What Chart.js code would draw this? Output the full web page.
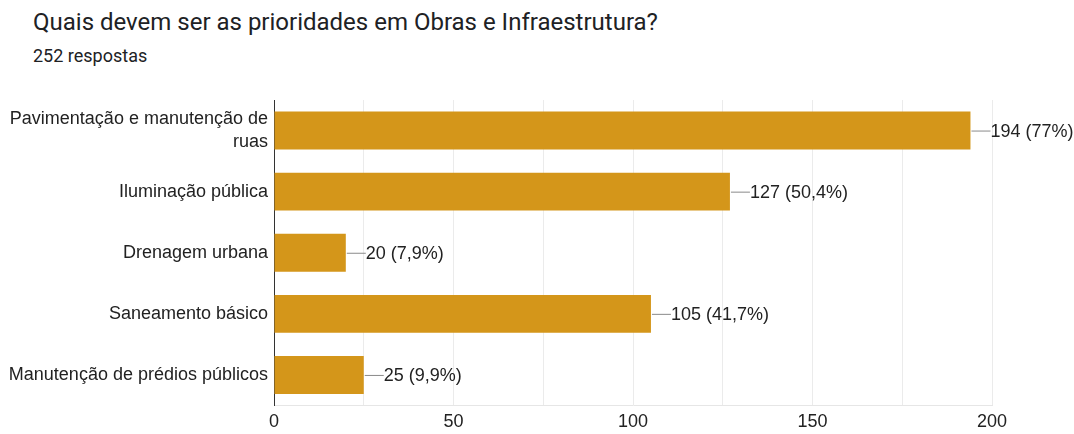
<!DOCTYPE html>
<html>
<head>
<meta charset="utf-8">
<script src="https://cdn.jsdelivr.net/npm/chart.js@4"></script>
<style>
  html, body { margin: 0; padding: 0; background: #fff; }
  #wrap { position: relative; width: 1074px; height: 434px; overflow: hidden; }
  #titre { position: absolute; left: 33px; top: 8px; font-family: Roboto, sans-serif; font-size: 24px; color: #202124; white-space: nowrap; }
  #sous { position: absolute; left: 33px; top: 45px; font-family: Roboto, sans-serif; font-size: 18px; color: #202124; }
  canvas { position: absolute; left: 0; top: 0; }
</style>
</head>
<body>
<div id="wrap">
  <div id="titre">Quais devem ser as prioridades em Obras e Infraestrutura?</div>
  <div id="sous">252 respostas</div>
  <canvas id="myChart" width="1074" height="434"></canvas>
</div>
<script>
// Données
const categories = [
    ["Pavimentação e manutenção de", "ruas"],
    "Iluminação pública",
    "Drenagem urbana",
    "Saneamento básico",
    "Manutenção de prédios públicos"
];
const reponses = [194, 127, 20, 105, 25];
const pourcentages = ["77%", "50,4%", "7,9%", "41,7%", "9,9%"];
const ticksX = [0, 50, 100, 150, 200];

const police = "'Liberation Sans', Arial, sans-serif";

// Étiquettes à droite des barres avec petit trait
const etiquettes = {
    id: "etiquettes",
    afterDatasetsDraw(chart) {
        const ctx = chart.ctx;
        const meta = chart.getDatasetMeta(0);
        ctx.save();
        ctx.font = "18px " + police;
        ctx.textBaseline = "middle";
        meta.data.forEach((bar, i) => {
            const x = bar.x, y = bar.y;
            ctx.strokeStyle = "#8a8a8a";
            ctx.lineWidth = 1;
            ctx.beginPath();
            ctx.moveTo(x + 1, y + 0.5);
            ctx.lineTo(x + 20, y + 0.5);
            ctx.stroke();
            ctx.fillStyle = "#222";
            ctx.fillText(reponses[i] + " (" + pourcentages[i] + ")", x + 20, y + 1);
        });
        ctx.restore();
    }
};

new Chart(document.getElementById("myChart"), {
    type: "bar",
    data: {
        labels: categories,
        datasets: [{
            data: reponses,
            backgroundColor: "#d4961a",
            barPercentage: 0.62,
            categoryPercentage: 1
        }]
    },
    options: {
        indexAxis: "y",
        responsive: false,
        animation: false,
        layout: { padding: { top: 100, right: 82, left: 0, bottom: 0 } },
        plugins: {
            legend: { display: false },
            tooltip: { enabled: false }
        },
        scales: {
            x: {
                min: 0,
                max: 200,
                afterFit(scale) { scale.height = 27; },
                afterBuildTicks(scale) {
                    scale.ticks = [];
                    for (let v = 0; v <= 200; v += 25) scale.ticks.push({ value: v });
                },
                grid: { color: "#ebebeb", drawTicks: false },
                border: { display: true, color: "#e6e6e6" },
                ticks: {
                    padding: 6,
                    color: "#222",
                    font: { size: 18, family: police },
                    callback: v => ticksX.includes(v) ? v : ""
                }
            },
            y: {
                afterFit(scale) { scale.width = 274; },
                grid: { display: false, drawTicks: false },
                border: { display: true, color: "#333", width: 1 },
                ticks: {
                    padding: 6,
                    color: "#222",
                    font: { size: 18, family: police, lineHeight: 1.25 }
                }
            }
        }
    },
    plugins: [etiquettes]
});
</script>
</body>
</html>
